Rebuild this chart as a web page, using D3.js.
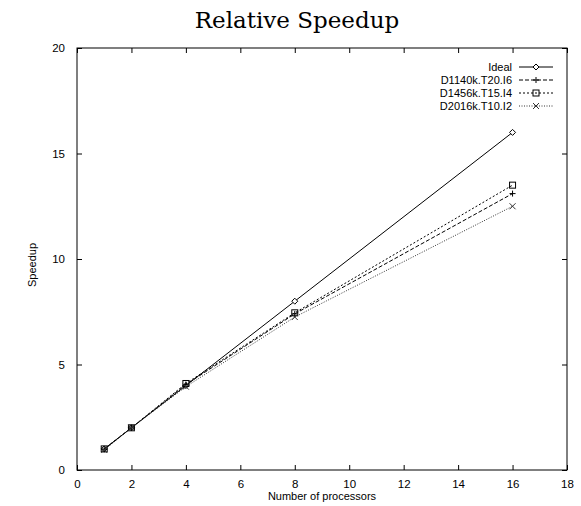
<!DOCTYPE html>
<html>
<head>
<meta charset="utf-8">
<title>Relative Speedup</title>
<script src="https://d3js.org/d3.v7.min.js"></script>
<style>
  body { margin: 0; background: #fff; }
  text { font-family: "Liberation Sans", Arial, sans-serif; font-size: 11px; fill: #000; }
  .title { font-family: "DejaVu Serif", "Liberation Serif", serif; font-size: 23px; font-weight: 300; }
</style>
</head>
<body>
<div id="chart"></div>
<script>
// processors on x axis
const procs = [1, 2, 4, 8, 16];

const ideal   = [1, 2, 4, 8, 16];
const d1140k  = [0.98, 2.0, 4.05, 7.4, 13.1];
const d1456k  = [1.0, 2.0, 4.1, 7.45, 13.5];
const d2016k  = [0.95, 2.0, 3.95, 7.25, 12.5];

const seriesNames = ["Ideal", "D1140k.T20.I6", "D1456k.T15.I4", "D2016k.T10.I2"];
const xTicks = [0, 2, 4, 6, 8, 10, 12, 14, 16, 18];
const yTicks = [0, 5, 10, 15, 20];

const series = [
  { name: seriesNames[0], values: ideal,  dash: null,  color: "#000", marker: "diamond" },
  { name: seriesNames[1], values: d1140k, dash: "4,2", color: "#000", marker: "plus" },
  { name: seriesNames[2], values: d1456k, dash: "2,2", color: "#000", marker: "square" },
  { name: seriesNames[3], values: d2016k, dash: "1,1.5", color: "#333", marker: "cross" }
];

const W = 581, H = 506;
const margin = { top: 48, right: 14, bottom: 36, left: 77 };
const width = W - margin.left - margin.right;
const height = H - margin.top - margin.bottom;

const x = d3.scaleLinear().domain([0, 18]).range([0, width]);
const y = d3.scaleLinear().domain([0, 20]).range([height, 0]);

const svg = d3.select("#chart").append("svg")
  .attr("width", W).attr("height", H);

svg.append("text").attr("class", "title")
  .attr("x", 297).attr("y", 28)
  .attr("text-anchor", "middle").text("Relative Speedup");

const g = svg.append("g").attr("transform", `translate(${margin.left},${margin.top})`);

// frame
g.append("rect").attr("width", width).attr("height", height)
  .attr("fill", "none").attr("stroke", "#000").attr("stroke-width", 1);

const tickLen = 5;
// bottom / top ticks (inward, mirrored)
g.append("g").attr("transform", `translate(0,${height})`)
  .call(d3.axisBottom(x).tickValues(xTicks).tickSize(-tickLen).tickPadding(10).tickFormat(d3.format("d")))
  .call(a => a.select(".domain").remove());
g.append("g")
  .call(d3.axisTop(x).tickValues(xTicks).tickSize(-tickLen).tickFormat(""))
  .call(a => a.select(".domain").remove());
g.append("g")
  .call(d3.axisLeft(y).tickValues(yTicks).tickSize(-tickLen).tickPadding(12).tickFormat(d3.format("d")))
  .call(a => a.select(".domain").remove());
g.append("g").attr("transform", `translate(${width},0)`)
  .call(d3.axisRight(y).tickValues(yTicks).tickSize(-tickLen).tickFormat(""))
  .call(a => a.select(".domain").remove());
g.selectAll(".tick text").style("font-family", "Liberation Sans, Arial, sans-serif").style("font-size", "11.5px");

// axis labels
svg.append("text").attr("x", 322).attr("y", 500).attr("text-anchor", "middle")
  .text("Number of processors");
svg.append("text").attr("transform", "translate(36,265) rotate(-90)")
  .attr("text-anchor", "middle").text("Speedup");

function drawMarker(sel, type, cx, cy, color) {
  const s = 3;
  if (type === "diamond") {
    sel.append("path").attr("d", `M${cx},${cy - s}L${cx + s},${cy}L${cx},${cy + s}L${cx - s},${cy}Z`)
      .attr("fill", "#fff").attr("stroke", color).attr("stroke-width", 1);
  } else if (type === "plus") {
    sel.append("path").attr("d", `M${cx - s},${cy}H${cx + s}M${cx},${cy - s}V${cy + s}`)
      .attr("stroke", color).attr("stroke-width", 1);
  } else if (type === "square") {
    sel.append("rect").attr("x", cx - s).attr("y", cy - s).attr("width", 2 * s).attr("height", 2 * s)
      .attr("fill", "none").attr("stroke", color).attr("stroke-width", 1);
  } else if (type === "cross") {
    sel.append("path").attr("d", `M${cx - s},${cy - s}L${cx + s},${cy + s}M${cx - s},${cy + s}L${cx + s},${cy - s}`)
      .attr("stroke", color).attr("stroke-width", 1);
  }
}

const line = d3.line().x((d, i) => x(procs[i])).y(d => y(d));

series.forEach(s => {
  g.append("path").datum(s.values)
    .attr("d", line)
    .attr("fill", "none")
    .attr("stroke", s.color)
    .attr("stroke-width", 1)
    .attr("stroke-dasharray", s.dash);
  const mg = g.append("g");
  s.values.forEach((v, i) => drawMarker(mg, s.marker, x(procs[i]), y(v), s.color));
});

// legend
const legend = svg.append("g");
series.forEach((s, i) => {
  const ly = 67 + i * 13;
  legend.append("text").attr("x", 512).attr("y", ly).attr("dy", "0.35em")
    .attr("text-anchor", "end").text(s.name);
  legend.append("line").attr("x1", 519).attr("x2", 553).attr("y1", ly).attr("y2", ly)
    .attr("stroke", s.color).attr("stroke-width", 1).attr("stroke-dasharray", s.dash);
  drawMarker(legend, s.marker, 536, ly, s.color);
});
</script>
</body>
</html>
